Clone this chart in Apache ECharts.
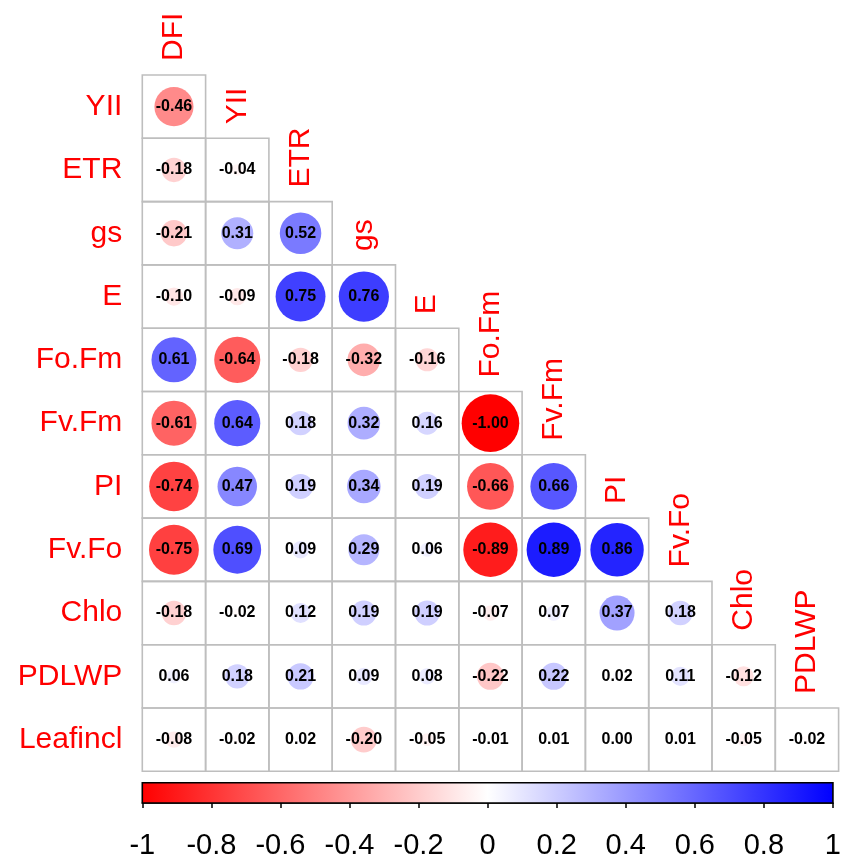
<!DOCTYPE html>
<html>
<head>
<meta charset="utf-8">
<script src="https://cdn.jsdelivr.net/npm/echarts@6/dist/echarts.min.js"></script>
<style>
  html, body { margin: 0; padding: 0; background: #ffffff; }
  #chart { width: 844px; height: 860px; }
</style>
</head>
<body>
<div id="chart"></div>
<script>
// Variables of the correlation matrix (columns: all but the last, rows: all but the first)
const colVars = ['DFI', 'YII', 'ETR', 'gs', 'E', 'Fo.Fm', 'Fv.Fm', 'PI', 'Fv.Fo', 'Chlo', 'PDLWP'];
const rowVars = ['YII', 'ETR', 'gs', 'E', 'Fo.Fm', 'Fv.Fm', 'PI', 'Fv.Fo', 'Chlo', 'PDLWP', 'Leafincl'];

// Lower-triangle Pearson coefficients, one array per row variable (against DFI, YII, ...)
const rYII      = [-0.46];
const rETR      = [-0.18, -0.04];
const rGs       = [-0.21, 0.31, 0.52];
const rE        = [-0.10, -0.09, 0.75, 0.76];
const rFoFm     = [0.61, -0.64, -0.18, -0.32, -0.16];
const rFvFm     = [-0.61, 0.64, 0.18, 0.32, 0.16, -1.00];
const rPI       = [-0.74, 0.47, 0.19, 0.34, 0.19, -0.66, 0.66];
const rFvFo     = [-0.75, 0.69, 0.09, 0.29, 0.06, -0.89, 0.89, 0.86];
const rChlo     = [-0.18, -0.02, 0.12, 0.19, 0.19, -0.07, 0.07, 0.37, 0.18];
const rPDLWP    = [0.06, 0.18, 0.21, 0.09, 0.08, -0.22, 0.22, 0.02, 0.11, -0.12];
const rLeafincl = [-0.08, -0.02, 0.02, -0.20, -0.05, -0.01, 0.01, 0.00, 0.01, -0.05, -0.02];

// Colour-key ticks
const colorbarTicks = [-1, -0.8, -0.6, -0.4, -0.2, 0, 0.2, 0.4, 0.6, 0.8, 1];

const rows = [rYII, rETR, rGs, rE, rFoFm, rFvFm, rPI, rFvFo, rChlo, rPDLWP, rLeafincl];
const cells = [];
rows.forEach(function (vals, i) {
  vals.forEach(function (v, j) { cells.push([j, i, v]); });
});
const headers = colVars.map(function (name, j) { return [j, j]; });

const FONT = "'Liberation Sans', Arial, Helvetica, sans-serif";

// red -> white -> blue ramp
function corrColor(v) {
  const t = Math.min(1, Math.abs(v));
  const c = Math.round(255 * (1 - t));
  return v < 0 ? 'rgb(255,' + c + ',' + c + ')' : 'rgb(' + c + ',' + c + ',255)';
}

const chart = echarts.init(document.getElementById('chart'), null, { renderer: 'canvas' });

const gridLeft = 142.3, cell = 63.3;

chart.setOption({
  backgroundColor: '#ffffff',
  animation: false,
  grid: [
    { left: gridLeft, top: 75, width: cell * 11, height: cell * 11 },
    { left: gridLeft, top: 782.7, width: cell * 11, height: 24 }
  ],
  xAxis: [
    { gridIndex: 0, type: 'category', data: colVars, show: false },
    {
      gridIndex: 1, type: 'value',
      min: colorbarTicks[0], max: colorbarTicks[colorbarTicks.length - 1], interval: 0.2,
      axisLine: { show: true, lineStyle: { color: '#000', width: 1.5 } },
      axisTick: { show: true, length: 5, lineStyle: { color: '#000', width: 1.5 } },
      axisLabel: { fontSize: 29, color: '#000', margin: 28, fontFamily: FONT },
      splitLine: { show: false }
    }
  ],
  yAxis: [
    {
      gridIndex: 0, type: 'category', data: rowVars, inverse: true,
      axisLine: { show: false }, axisTick: { show: false }, splitLine: { show: false },
      axisLabel: { fontSize: 30, color: '#ff0000', margin: 20, fontFamily: FONT }
    },
    { gridIndex: 1, type: 'value', min: 0, max: 1, show: false }
  ],
  series: [
    {
      type: 'custom',
      xAxisIndex: 0, yAxisIndex: 0,
      data: cells,
      renderItem: function (params, api) {
        const v = api.value(2);
        const p = api.coord([api.value(0), api.value(1)]);
        const s = api.size([1, 1]);
        const w = s[0], h = s[1];
        const rad = Math.sqrt(Math.abs(v)) * w * 0.455;
        return {
          type: 'group',
          children: [
            {
              type: 'rect',
              shape: { x: p[0] - w / 2, y: p[1] - h / 2, width: w, height: h },
              style: { fill: null, stroke: '#bebebe', lineWidth: 1.6 }
            },
            {
              type: 'circle',
              shape: { cx: p[0], cy: p[1], r: rad },
              style: { fill: corrColor(v) }
            },
            {
              type: 'text',
              x: p[0], y: p[1],
              style: {
                text: v.toFixed(2), fill: '#000',
                font: 'bold 16px ' + FONT,
                textAlign: 'center', textVerticalAlign: 'middle'
              }
            }
          ]
        };
      }
    },
    {
      type: 'custom',
      xAxisIndex: 0, yAxisIndex: 0,
      data: headers,
      renderItem: function (params, api) {
        const p = api.coord([api.value(0), api.value(1)]);
        const s = api.size([1, 1]);
        return {
          type: 'text',
          x: p[0], y: p[1] - s[1] / 2 - 14,
          rotation: Math.PI / 2,
          style: {
            text: colVars[params.dataIndex], fill: '#ff0000',
            font: '30px ' + FONT,
            textAlign: 'left', textVerticalAlign: 'middle'
          }
        };
      }
    },
    {
      type: 'custom',
      xAxisIndex: 1, yAxisIndex: 1,
      data: [[colorbarTicks[0], 0]],
      renderItem: function (params, api) {
        const lo = colorbarTicks[0], hi = colorbarTicks[colorbarTicks.length - 1];
        const a = api.coord([lo, 1]);
        const b = api.coord([hi, 0]);
        return {
          type: 'rect',
          shape: { x: a[0], y: a[1], width: b[0] - a[0], height: b[1] - a[1] },
          style: {
            fill: new echarts.graphic.LinearGradient(0, 0, 1, 0, [
              { offset: 0, color: corrColor(lo) },
              { offset: 0.5, color: corrColor(0) },
              { offset: 1, color: corrColor(hi) }
            ]),
            stroke: '#000', lineWidth: 1.6
          }
        };
      }
    }
  ]
});
</script>
</body>
</html>
